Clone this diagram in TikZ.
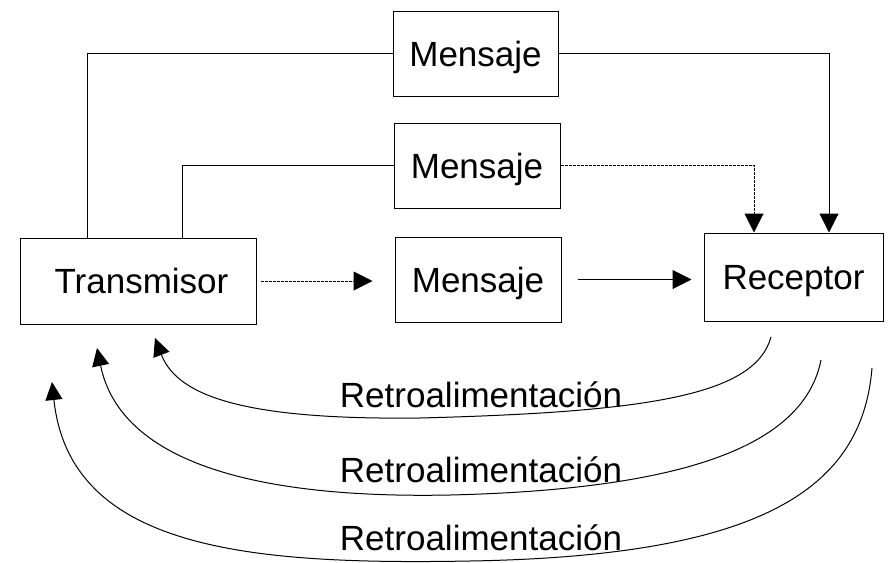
\documentclass[tikz,border=0pt]{standalone}
\usepackage{fontspec}
\setmainfont{Liberation Sans}
\usetikzlibrary{arrows.meta}
\begin{document}
\begin{tikzpicture}[x=1pt,y=-1pt,
  box/.style={draw,line width=1pt,inner sep=0pt,text height=25pt,text depth=0pt,font=\fontsize{35}{42}\selectfont},
  conn/.style={line width=1pt},
  arr/.style={conn,-{Triangle[length=19pt,width=19pt]}},
  farr/.style={conn,-{Triangle[length=18pt,width=17pt]}},
  dotline/.style={dash pattern=on 3pt off 1pt},
  lbl/.style={anchor=base,inner sep=0pt,font=\fontsize{35}{42}\selectfont}]
\fill[white] (0,0) rectangle (888,562);
\useasboundingbox (0,0) rectangle (888,562);
% boxes
\node[box,minimum width=236pt,minimum height=86pt] (trans) at (138,281) {\hspace{7pt}Transmisor};
\node[box,minimum width=165pt,minimum height=85pt] (mtop) at (475.5,53.5) {Mensaje};
\node[box,minimum width=166pt,minimum height=85pt] (mmid) at (477,165.5) {Mensaje};
\node[box,minimum width=166pt,minimum height=85pt] (mbot) at (478,279.5) {Mensaje};
\node[box,minimum width=179pt,minimum height=88pt] (rec) at (793.5,277) {Receptor};
% message paths
\draw[conn] ([xshift=68pt]trans.north west) |- (mtop.west);
\draw[conn] ([xshift=163pt]trans.north west) |- (mmid.west);
\draw[arr] (mtop.east) -| ([xshift=35.5pt]rec.north);
\draw[arr,dotline] (mmid.east) -| ([xshift=-39.5pt]rec.north);
\draw[arr,dotline,shorten <=4pt,shorten >=22pt] (trans.east) -- (trans.east -| mbot.west);
\draw[arr,shorten <=16pt,shorten >=12pt] (mbot.east) -- (mbot.east -| rec.west);
% feedback
\coordinate (s1) at (771,337);
\coordinate (e1) at (155,338);
\coordinate (s2) at (821,360);
\coordinate (e2) at (97,348);
\coordinate (s3) at (872,368);
\coordinate (e3) at (52,382);
\draw[farr] (s1) .. controls (755,395) and (650,412) .. (420,418)
                 .. controls (250,420) and (178,398) .. (e1);
\draw[farr] (s2) .. controls (805,440) and (700,489) .. (450,495)
                 .. controls (250,499) and (120,460) .. (e2);
\draw[farr] (s3) .. controls (862,490) and (760,556) .. (470,561)
                 .. controls (250,565) and (70,550) .. (e3);
\node[lbl] (l1) at (481,407) {Retroalimentación};
\node[lbl] (l2) at (481,482) {Retroalimentación};
\node[lbl] (l3) at (481,550) {Retroalimentación};
\end{tikzpicture}
\end{document}
